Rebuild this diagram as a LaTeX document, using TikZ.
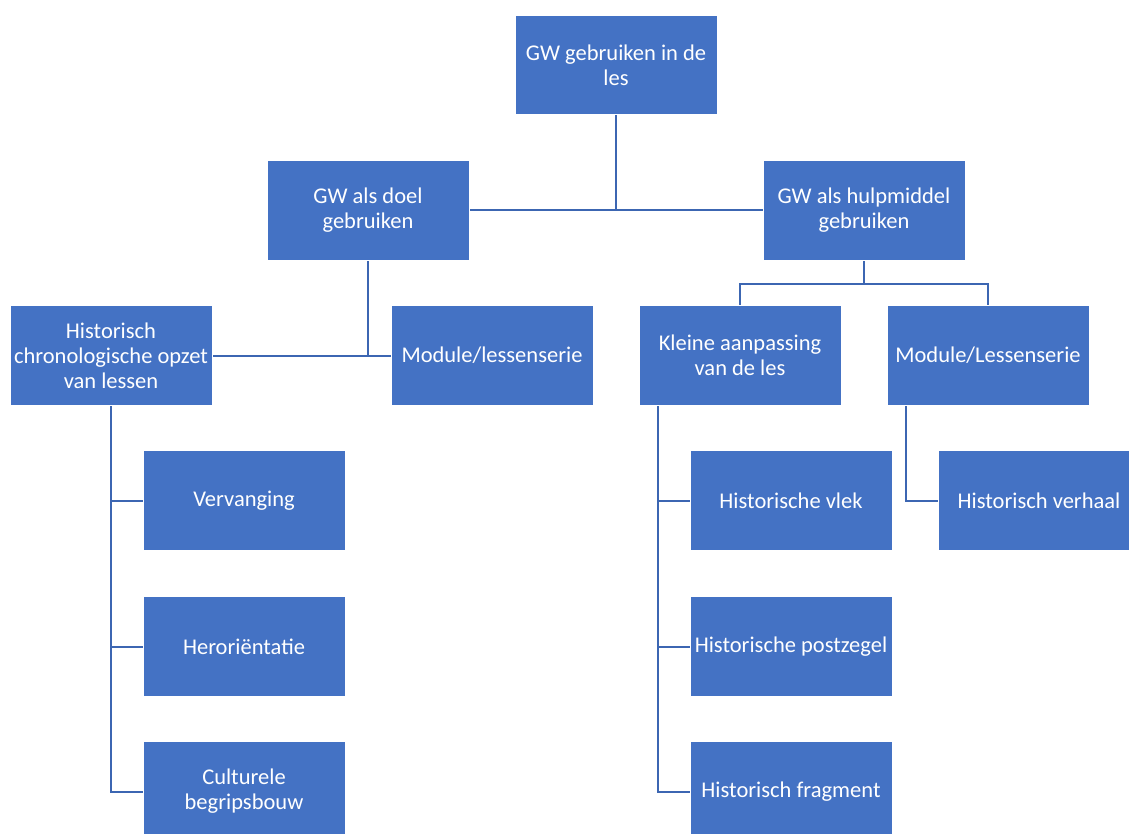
\documentclass[tikz,border=0pt]{standalone}
\usepackage{fontspec}
\setmainfont{Carlito}
\usetikzlibrary{backgrounds,calc}
\definecolor{boxblue}{HTML}{4472C4}
\definecolor{lineblue}{HTML}{3C66B2}
\tikzset{
  box/.style={rectangle, fill=boxblue, draw=white, line width=0.8pt, minimum width=202pt, minimum height=99.5pt, inner sep=0pt, align=center, text=white, font=\fontsize{22.5}{25}\selectfont},
  conn/.style={draw=lineblue, line width=2pt}
}
\begin{document}
\begin{tikzpicture}[x=1pt,y=-1pt]
\useasboundingbox (0,0) rectangle (1129,834);
\clip (0,0) rectangle (1129,834);
\node[box] (top) at (616,65) {GW gebruiken in de\\les};
\node[box] (doel) at (368,210.5) {GW als doel\\gebruiken};
\node[box] (hulp) at (864,210.5) {GW als hulpmiddel\\gebruiken};
\node[box] (hist) at (111,355.5) {Historisch\\chronologische opzet\\van lessen};
\node[box] (mod1) at (492,355.5) {Module/lessenserie};
\node[box] (klein) at (740,355.5) {Kleine aanpassing\\van de les};
\node[box] (mod2) at (988,355.5) {Module/Lessenserie};
\node[box] (verv) at (244,500.5) {Vervanging};
\node[box] (her) at (244,646.5) {Heroriëntatie};
\node[box] (cult) at (244,791.5) {Culturele\\begripsbouw};
\node[box] (vlek) at (791,500.5) {Historische vlek};
\node[box] (post) at (791,646.5) {Historische postzegel};
\node[box] (frag) at (791,791.5) {Historisch fragment};
\node[box] (verh) at (1039,500.5) {Historisch verhaal};
\coordinate (hb) at ($(hulp.south)+(0,23)$);
\coordinate (ks) at ($(klein.south west)+(19,0)$);
\coordinate (ms) at ($(mod2.south west)+(19,0)$);
\begin{scope}[on background layer]
\draw[conn] (top.south) -- (top.south |- doel.east);
\draw[conn] (doel.east) -- (hulp.west);
\draw[conn] (doel.south) -- (doel.south |- hist.east);
\draw[conn] (hist.east) -- (mod1.west);
\draw[conn] (hulp.south) -- (hb);
\draw[conn] (klein.north) |- (hb) -| (mod2.north);
\draw[conn] (hist.south) |- (verv.west);
\draw[conn] (hist.south) |- (her.west);
\draw[conn] (hist.south) |- (cult.west);
\draw[conn] (ks) |- (vlek.west);
\draw[conn] (ks) |- (post.west);
\draw[conn] (ks) |- (frag.west);
\draw[conn] (ms) |- (verh.west);
\end{scope}
\end{tikzpicture}
\end{document}
